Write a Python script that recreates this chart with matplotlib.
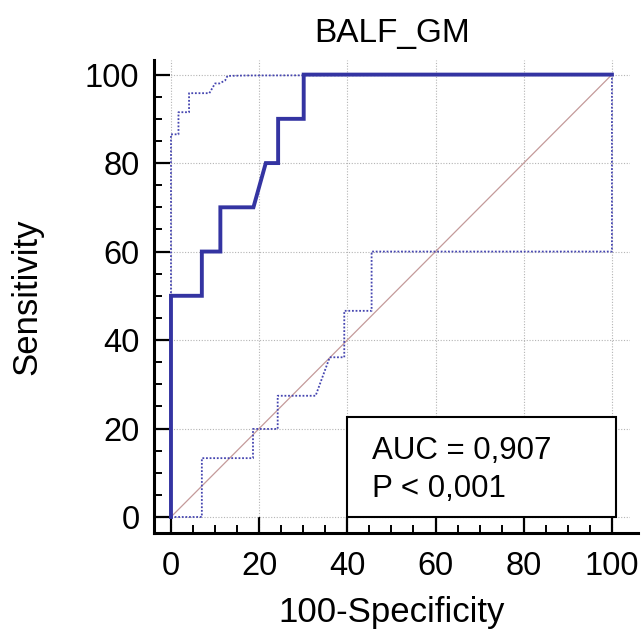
import matplotlib
matplotlib.use("Agg")
import matplotlib.pyplot as plt
from matplotlib.patches import Rectangle

plt.rcParams['font.family'] = ['Liberation Sans', 'DejaVu Sans']

# ROC curve (100-Specificity vs Sensitivity)
roc_x = [0, 0, 7.0, 7.0, 11.2, 11.2, 18.7, 21.5, 24.3, 24.3, 30.1, 30.1, 100]
roc_y = [0, 50, 50, 60, 60, 70, 70, 80, 80, 90, 90, 100, 100]

# upper confidence bound
ci_up_x = [0, 0, 1.7, 1.7, 4.1, 4.1, 8.7, 10.0, 11.0, 12.3, 12.8, 17.0, 100]
ci_up_y = [0, 86.5, 86.5, 91.5, 91.5, 95.8, 95.8, 98.0, 98.0, 98.7, 99.7, 99.8, 100]

# lower confidence bound
ci_lo_x = [0, 7.0, 7.0, 18.6, 18.6, 24.2, 24.2, 32.8, 36.0, 39.3, 39.3, 45.5, 45.5, 100, 100]
ci_lo_y = [0, 0, 13.3, 13.3, 19.9, 19.9, 27.4, 27.4, 36.1, 36.1, 46.6, 46.6, 60.0, 60.0, 100]

ref_line = [0, 100]
ticks = [0, 20, 40, 60, 80, 100]

auc_text = "AUC = 0,907"
p_text = "P < 0,001"

fig = plt.figure(figsize=(6.43, 6.29), dpi=100)
ax = fig.add_axes([154/643, 1 - 533/629, (630 - 154)/643, (533 - 60)/629])

ax.set_xlim(-3.85, 104.1)
ax.set_ylim(-3.62, 103.3)

# grid
ax.grid(True, which='major', color='#b4b4b4', linestyle=(0, (1, 1.5)), linewidth=0.8)
ax.set_axisbelow(True)

# diagonal reference
ax.plot(ref_line, ref_line, color='#c49a9a', linewidth=0.9)

# confidence bounds
ax.plot(ci_up_x, ci_up_y, color='#4545b0', linewidth=1.3, linestyle=(0, (1, 1)))
ax.plot(ci_lo_x, ci_lo_y, color='#4545b0', linewidth=1.3, linestyle=(0, (1, 1)))

# ROC
ax.plot(roc_x, roc_y, color='#3434a2', linewidth=2.8, solid_joinstyle='miter')

# AUC box
box = Rectangle((40, 0), 60.9, 22.5, facecolor='white', edgecolor='black',
                linewidth=1.5, zorder=4)
ax.add_patch(box)
ax.text(45.5, 13.1, auc_text, fontsize=22.5, va='baseline', ha='left', zorder=5)
ax.text(45.5, 4.6, p_text, fontsize=22.5, va='baseline', ha='left', zorder=5)

# axes styling
for s in ['top', 'right']:
    ax.spines[s].set_visible(False)
for s in ['left', 'bottom']:
    ax.spines[s].set_linewidth(2.2)
ax.spines['bottom'].set_bounds(-3.85, 106)

ax.set_xticks(ticks)
ax.set_yticks(ticks)
ax.set_xticks(range(0, 101, 5), minor=True)
ax.set_yticks(range(0, 101, 5), minor=True)
ax.tick_params(which='major', direction='in', length=11.5, width=1.6, labelsize=23.5)
ax.tick_params(which='minor', direction='in', length=5.5, width=1.4)
ax.tick_params(axis='x', which='major', pad=13)
ax.tick_params(axis='y', which='major', pad=10.5)

ax.set_title("BALF_GM", fontsize=24, pad=13)
ax.set_xlabel("100-Specificity", fontsize=25, labelpad=10)
ax.set_ylabel("Sensitivity", fontsize=25, labelpad=30)

fig.savefig("out.png", dpi=100)
